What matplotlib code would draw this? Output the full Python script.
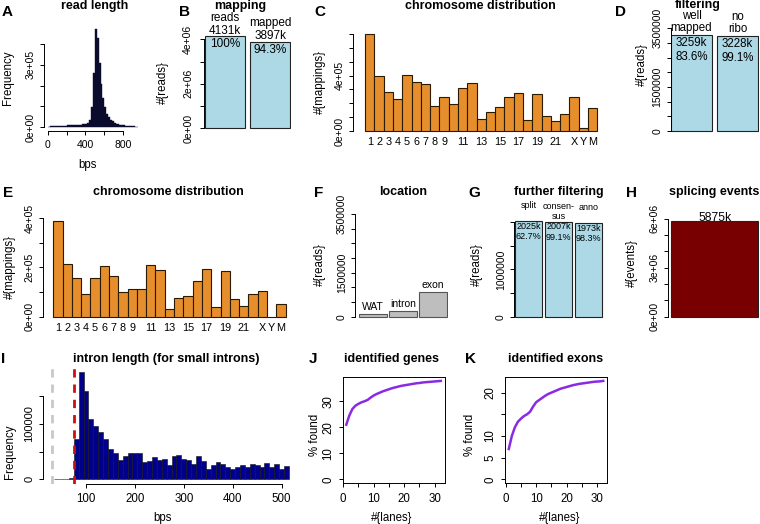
import matplotlib
matplotlib.use('Agg')
import matplotlib.pyplot as plt
import numpy as np

plt.rcParams['font.family'] = ['Liberation Sans', 'DejaVu Sans']

W, H = 760, 524

# A: read length histogram, 20 bps bins, counts in thousands
read_len_edges = np.arange(0, 980, 20)
read_len_counts = [3, 4, 5, 5, 6, 6, 7, 7, 8, 8, 9, 9, 10, 10, 11, 12, 12, 13, 14, 15,
                   16, 20, 35, 95, 260, 470, 430, 310, 210, 140, 95, 65, 48, 36, 28, 22,
                   18, 15, 12, 10, 9, 8, 7, 6, 5, 4, 3, 2]

# B: mapping
mapping_names = ['reads', 'mapped']
mapping_counts = [4131e3, 3897e3]
mapping_pct = ['100%', '94.3%']

# C / E: chromosome distribution (x 1e5 mappings)
chrom_names = [str(i) for i in range(1, 23)] + ['X', 'Y', 'M']
chrom_all = [7.0, 3.97, 2.79, 2.28, 4.04, 3.53, 3.37, 1.78, 2.43, 1.92, 3.10, 3.44, 0.89,
             1.35, 1.73, 2.48, 2.74, 0.77, 2.64, 1.06, 0.70, 1.25, 2.45, 0.19, 1.63]
chrom_filtered = [3.90, 2.13, 1.57, 0.94, 1.59, 2.06, 1.64, 0.99, 1.11, 1.14, 2.09, 1.91, 0.31,
                  0.76, 0.84, 1.45, 1.94, 0.39, 1.87, 0.71, 0.43, 0.91, 1.03, 0.0, 0.53]

# D: filtering
filter_names = ['well\nmapped', 'no\nribo']
filter_counts = [3259e3, 3228e3]
filter_pct = ['83.6%', '99.1%']

# F: location
location_names = ['WAT', 'intron', 'exon']
location_counts = [0.09e6, 0.193e6, 0.83e6]

# G: further filtering
further_names = ['split', 'consen-\nsus', 'anno']
further_counts = [2025e3, 2007e3, 1973e3]
further_pct = ['62.7%', '99.1%', '98.3%']

# H: splicing events
splicing_events = [5875e3]

# I: intron length, 10 bps bins from 35, counts in thousands
intron_edges = np.arange(35, 525, 10)
intron_counts = [0.2, 0.3, 0.7, 2.5, 73, 194, 160, 110, 97, 85, 73, 55, 48, 35, 42, 47,
                 48, 48, 32, 34, 40, 35, 37, 26, 42, 44, 37, 35, 27, 42, 34, 19, 25, 32,
                 27, 23, 19, 23, 25, 23, 27, 25, 23, 30, 23, 27, 19, 24]
intron_min = 30
intron_cut = 75

# J / K: saturation curves
lanes = np.arange(1, 33)
genes_found = [21.0, 24.5, 27.0, 28.3, 29.0, 29.6, 30.0, 30.5, 31.4, 32.2, 32.8, 33.3, 33.8,
               34.2, 34.6, 35.0, 35.3, 35.6, 35.9, 36.1, 36.3, 36.5, 36.7, 36.9, 37.0, 37.2,
               37.3, 37.4, 37.5, 37.6, 37.7, 37.8]
exons_found = [7.0, 10.0, 12.0, 13.3, 14.0, 14.6, 15.0, 15.6, 16.8, 17.8, 18.3, 18.8, 19.3,
               19.7, 20.0, 20.3, 20.6, 20.9, 21.1, 21.3, 21.5, 21.7, 21.85, 22.0, 22.1, 22.2,
               22.3, 22.4, 22.5, 22.55, 22.6, 22.7]

fig = plt.figure(figsize=(W / 100, H / 100), dpi=100)


def r_axes(l, t, r, b, box=False):
    ax = fig.add_axes([l / W, 1 - b / H, (r - l) / W, (b - t) / H])
    ax.patch.set_alpha(0)
    for name, s in ax.spines.items():
        s.set_linewidth(0.7)
        if not box and name in ('top', 'right'):
            s.set_visible(False)
    ax.tick_params(length=3, width=0.7, labelsize=7.5, pad=3)
    return ax


def y_axis(ax, ticks, labels, bound=True):
    ax.set_yticks(ticks)
    ax.set_yticklabels(labels)
    if bound:
        ax.spines['left'].set_bounds(ticks[0], ticks[-1])
    ax.tick_params(axis='y', labelrotation=90)
    for lab in ax.get_yticklabels():
        lab.set_verticalalignment('center')


def no_x(ax):
    ax.spines['bottom'].set_visible(False)
    ax.set_xticks([])


def ftxt(x, y, s, **kw):
    kw.setdefault('ha', 'center')
    kw.setdefault('va', 'center')
    fig.text(x / W, 1 - y / H, s, **kw)


def bar_labels(ax, values, above, inside, size, above_off, inside_off, above_va='baseline',
               spacing=1.15):
    for i, v in enumerate(values):
        if above is not None:
            ax.annotate(above[i], xy=(i, v), xytext=(0, above_off), textcoords='offset points',
                        ha='center', va=above_va, fontsize=size, linespacing=spacing)
        if inside is not None:
            ax.annotate(inside[i], xy=(i, v), xytext=(0, inside_off), textcoords='offset points',
                        ha='center', va='top', fontsize=size, linespacing=1.15)


blue = '#ADD8E6'
orange = '#E68E2C'

# A
ax = r_axes(44, 25.4, 142, 131.2)
ax.hist(read_len_edges[:-1], bins=read_len_edges, weights=np.array(read_len_counts) * 1e3,
        color='#0b0b2e', edgecolor='#0b0b2e', linewidth=0.3)
ax.set_xlim(-38.4, 998.4)
ax.set_ylim(-18.8e3, 488.8e3)
ax.set_xticks([0, 200, 400, 600, 800])
ax.set_xticklabels(['0', '', '400', '', '800'])
ax.spines['bottom'].set_bounds(0, 800)
y_axis(ax, [0, 1e5, 2e5, 3e5, 4e5], ['0e+00', '', '', '3e+05', ''])

# B
ax = r_axes(204.3, 32.6, 291.2, 132.1)
ax.bar(range(2), mapping_counts, width=0.9, color=blue, edgecolor='#222222', linewidth=0.8)
ax.set_xlim(-0.46, 1.47)
ax.set_ylim(-0.17e6, 4.3e6)
no_x(ax)
y_axis(ax, [0, 1e6, 2e6, 3e6, 4e6], ['0e+00', '', '2e+06', '', '4e+06'])
ax.tick_params(axis='y', pad=5)
above = [f'{n}\n{v / 1000:.0f}k' for n, v in zip(mapping_names, mapping_counts)]
bar_labels(ax, mapping_counts, above, mapping_pct, 8.5, 1.5, -1.5)


def chrom_panel(ax, values, ylim):
    ax.bar(range(len(values)), np.array(values) * 1e5, width=1, color=orange,
           edgecolor='#2a1a00', linewidth=0.8)
    ax.set_xlim(-1.8 if ylim[1] > 6e5 else -1.64, 25.0)
    ax.set_ylim(*ylim)
    ax.spines['bottom'].set_visible(False)
    ax.set_xticks(range(len(values)))
    ax.set_xticklabels([n if (i < 9 or i >= 22 or i % 2 == 0) else ''
                        for i, n in enumerate(chrom_names)])
    ax.tick_params(axis='x', length=0, pad=1.5, labelsize=7.8)


# C
ax = r_axes(353, 30, 602, 134.9)
chrom_panel(ax, chrom_all, (-0.28e5, 7.28e5))
y_axis(ax, [i * 1e5 for i in range(8)], ['0e+00', '', '', '', '4e+05', '', '', ''])

# D
ax = r_axes(670.8, 25.2, 759.1, 135.1)
ax.bar(range(2), filter_counts, width=0.89, color=blue, edgecolor='#222222', linewidth=0.8)
ax.set_xlim(-0.45, 1.47)
ax.set_ylim(-0.14e6, 3.6e6)
no_x(ax)
y_axis(ax, [i * 5e5 for i in range(8)], ['0', '', '', '1500000', '', '', '', '3500000'])
inside = [f'{v / 1000:.0f}k\n{p}' for v, p in zip(filter_counts, filter_pct)]
bar_labels(ax, filter_counts, filter_names, inside, 8.3, 3, -1.5, spacing=1.0)

# E
ax = r_axes(42.7, 216.8, 290.2, 320.6)
chrom_panel(ax, chrom_filtered, (-0.16e5, 4.06e5))
y_axis(ax, [0, 1e5, 2e5, 3e5, 4e5], ['0e+00', '', '2e+05', '', '4e+05'])

# F
ax = r_axes(355.1, 210.9, 447.8, 320.8)
ax.bar(range(3), location_counts, width=0.92, color='#BEBEBE', edgecolor='#555555', linewidth=0.8)
ax.set_xlim(-0.59, 2.5)
ax.set_ylim(-0.14e6, 3.6e6)
no_x(ax)
y_axis(ax, [i * 5e5 for i in range(8)], ['0', '', '', '1500000', '', '', '', '3500000'])
bar_labels(ax, location_counts, location_names, None, 7.5, 1.5, 0, above_va='bottom')

# G
ax = r_axes(514.1, 216.9, 603.5, 320.5)
ax.bar(range(3), further_counts, width=0.9, color=blue, edgecolor='#222222', linewidth=0.8)
ax.set_xlim(-0.48, 2.5)
ax.set_ylim(-0.08e6, 2.11e6)
no_x(ax)
y_axis(ax, [0, 5e5, 1e6, 1.5e6, 2e6], ['0', '', '1000000', '', ''])
inside = [f'{v / 1000:.0f}k\n{p}' for v, p in zip(further_counts, further_pct)]
bar_labels(ax, further_counts, further_names, inside, 6.5, 14.5, -0.5, above_va='top')

# H
ax = r_axes(667.6, 217.1, 759.2, 320.6)
ax.bar([0], splicing_events, width=1, color='#780000', edgecolor='#222222', linewidth=0.8)
ax.set_xlim(-0.54, 0.51)
ax.set_ylim(-0.24e6, 6.11e6)
no_x(ax)
y_axis(ax, [i * 1e6 for i in range(7)], ['0e+00', '', '', '3e+06', '', '', '6e+06'])
bar_labels(ax, splicing_events, [f'{v / 1000:.0f}k' for v in splicing_events], None, 8.7, 0, 0)

# I
ax = r_axes(42.7, 367.8, 298.2, 483.6)
ax.hist(intron_edges[:-1], bins=intron_edges, weights=np.array(intron_counts) * 1e3,
        color='#00008B', edgecolor='#111111', linewidth=0.4)
ax.axvline(intron_min, color='#C8C8C8', linewidth=2, linestyle=(0, (3, 2.5)))
ax.axvline(intron_cut, color='#CC1010', linewidth=2, linestyle=(0, (3, 2.5)))
ax.set_xlim(11.5, 534)
ax.set_ylim(-7.8e3, 201.8e3)
ax.set_xticks([100, 200, 300, 400, 500])
ax.spines['bottom'].set_bounds(100, 500)
ax.tick_params(axis='x', labelsize=8.3, pad=4)
y_axis(ax, [0, 5e4, 1e5, 1.5e5], ['0', '', '100000', ''])
ax.tick_params(axis='y', labelsize=8)

# J / K
for rect, vals, ylim, yt, ylab in [
        ((342.5, 377, 444.5, 483.3), genes_found, (-1.51, 39.31), [0, 10, 20, 30],
         ['0', '10', '20', '30']),
        ((505, 377, 607, 483.3), exons_found, (-0.908, 23.6), [0, 5, 10, 15, 20],
         ['0', '5', '10', '', '20'])]:
    ax = r_axes(*rect, box=True)
    ax.plot(lanes, vals, color='#8A2BE2', linewidth=1.8)
    ax.set_xlim(-0.24, 33.24)
    ax.set_ylim(*ylim)
    ax.set_xticks([0, 5, 10, 15, 20, 25, 30])
    ax.set_xticklabels(['0', '', '10', '', '20', '', '30'])
    ax.tick_params(axis='x', labelsize=8.3, pad=4)
    y_axis(ax, yt, ylab, bound=False)
    ax.tick_params(axis='y', labelsize=8.3)

# titles
title_kw = dict(fontsize=9, fontweight='bold')
for x, y, s in [(95, 6, 'read length'), (240, 6, 'mapping'), (480, 6, 'chromosome distribution'),
                (698, 5, 'filtering'), (168.3, 192, 'chromosome distribution'),
                (402.7, 192, 'location'), (559, 192, 'further filtering'),
                (714.3, 192, 'splicing events'), (166.7, 359, 'intron length (for small introns)'),
                (391.7, 359, 'identified genes'), (556, 359, 'identified exons')]:
    ftxt(x, y, s, **title_kw)

# panel letters
for x, y, s in [(6.7, 12, 'A'), (185, 12, 'B'), (320, 12, 'C'), (620, 12, 'D'),
                (8.3, 193, 'E'), (319, 193, 'F'), (474, 193, 'G'), (631.7, 193, 'H'),
                (3.3, 359, 'I'), (313.3, 359, 'J'), (470, 359, 'K')]:
    ftxt(x, y, s, fontsize=11, fontweight='bold')

# axis labels
for x, y, s in [(8.3, 77.3, 'Frequency'), (163, 83, '#{reads}'), (320, 82, '#{mappings}'),
                (641.7, 65, '#{reads}'), (10, 266.7, '#{mappings}'), (320, 265, '#{reads}'),
                (476.7, 265, '#{reads}'), (631.7, 263, '#{events}'),
                (10, 451.7, 'Frequency'), (315, 435, '% found'), (470, 435, '% found')]:
    ftxt(x, y, s, fontsize=8.3, rotation=90)

for x, y, s in [(87.3, 165, 'bps'), (162.7, 518, 'bps'), (391.7, 518, '#{lanes}'),
                (559.3, 518, '#{lanes}')]:
    ftxt(x, y, s, fontsize=8.3)

fig.savefig('out.png', dpi=100)
